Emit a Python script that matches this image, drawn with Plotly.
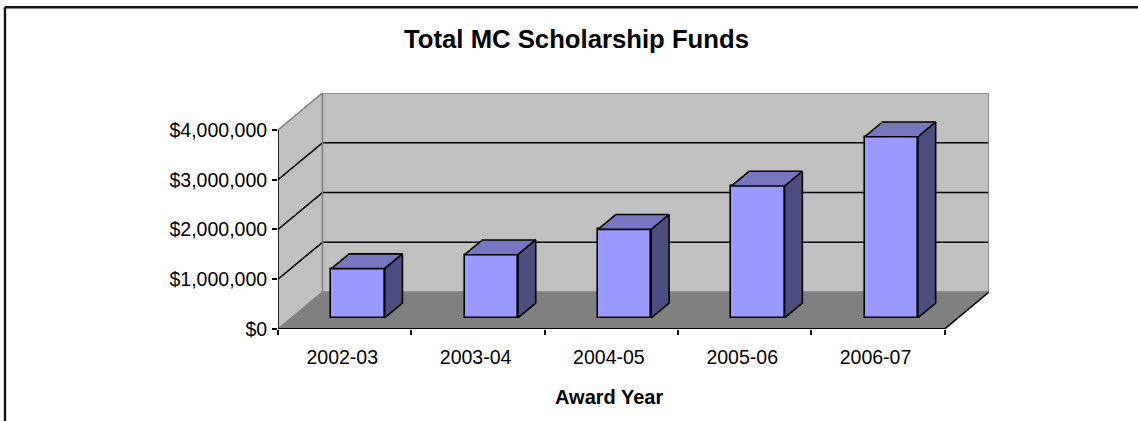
import plotly.graph_objects as go

# Data
categories = ["2002-03", "2003-04", "2004-05", "2005-06", "2006-07"]
funds = [990000, 1270000, 1780000, 2650000, 3640000]
value_ticks = [0, 1000000, 2000000, 3000000, 4000000]
value_labels = ["$0", "$1,000,000", "$2,000,000", "$3,000,000", "$4,000,000"]

# Chart geometry (pixels)
W, H = 1138, 421
LEFT, RIGHT, TOP, BOTTOM = 278.3, 988.7, 93.3, 329.3
DEPTH_PX_X, DEPTH_PX_Y = 44.4, 37.0
BAND_PX = (RIGHT - DEPTH_PX_X - LEFT) / len(categories)
MILLION_PX = 49.8

DX = DEPTH_PX_X / BAND_PX                 # depth shift in category units
DY = DEPTH_PX_Y / MILLION_PX * 1e6        # depth shift in dollars
N = len(categories)
VMAX = value_ticks[-1]
BAR_W = 0.4
D0, D1 = 0.3, 0.7                         # bar front/back depth fractions


def pt(x, v, d=0.0):
    return x + d * DX, v + d * DY


def seg(p0, p1, color, width):
    return dict(type="line", xref="x", yref="y", x0=p0[0], y0=p0[1], x1=p1[0], y1=p1[1],
                line=dict(color=color, width=width), layer="below")


def poly(points, fill):
    d = "M " + " L ".join(f"{a},{b}" for a, b in points) + " Z"
    return dict(type="path", xref="x", yref="y", path=d, fillcolor=fill,
                line=dict(width=0), layer="below")


shapes = [
    poly([pt(0, 0, 1), pt(N, 0, 1), pt(N, VMAX, 1), pt(0, VMAX, 1)], "#c0c0c0"),
    poly([pt(0, 0), pt(0, 0, 1), pt(0, VMAX, 1), pt(0, VMAX)], "#c0c0c0"),
    poly([pt(0, 0), pt(N, 0), pt(N, 0, 1), pt(0, 0, 1)], "#808080"),
]
for v in value_ticks[1:-1]:
    shapes.append(seg(pt(0, v), pt(0, v, 1), "#000000", 1.6))
    shapes.append(seg(pt(0, v, 1), pt(N, v, 1), "#000000", 1.6))
edge = "#808080"
shapes += [
    seg(pt(0, VMAX), pt(0, VMAX, 1), edge, 1.6),
    seg(pt(0, VMAX, 1), pt(N, VMAX, 1), edge, 1.6),
    seg(pt(N, VMAX, 1), pt(N, 0, 1), edge, 1.6),
    seg(pt(0, 0, 1), pt(0, VMAX, 1), edge, 1.6),
    seg(pt(0, 0, 1), pt(N, 0, 1), edge, 1.6),
    seg(pt(0, 0), pt(0, 0, 1), edge, 1.6),
    seg(pt(N, 0), pt(N, 0, 1), "#000000", 1.6),
    seg(pt(0, 0), pt(N, 0), "#000000", 1.8),
    seg(pt(0, 0), pt(0, VMAX), "#000000", 1.6),
]

# Frame (left and top only) in paper coordinates
pw = RIGHT - LEFT
ph = BOTTOM - TOP
fx0 = (5.5 - LEFT) / pw
fx1 = (W + 2 - LEFT) / pw
fy1 = (BOTTOM - 7.5) / ph
fy0 = (BOTTOM - H - 2) / ph
frame = dict(color="#111111", width=2.4)
shapes.append(dict(type="line", xref="paper", yref="paper", x0=fx0, x1=fx0, y0=fy0, y1=fy1, line=frame))
shapes.append(dict(type="line", xref="paper", yref="paper", x0=fx0, x1=fx1, y0=fy1, y1=fy1, line=frame))

fig = go.Figure()
centers = [i + 0.5 for i in range(N)]
front_x = [pt(c, 0, D0)[0] for c in centers]
base = pt(0, 0, D0)[1]

fig.add_trace(go.Bar(
    x=front_x, y=funds, base=base, width=BAR_W,
    marker=dict(color="#9999ff", line=dict(color="#000000", width=1.6)),
    hoverinfo="skip", showlegend=False,
))

line = dict(color="#000000", width=1.6)
for c, v in zip(centers, funds):
    l, r = c - BAR_W / 2, c + BAR_W / 2
    top = [pt(l, v, D0), pt(r, v, D0), pt(r, v, D1), pt(l, v, D1), pt(l, v, D0)]
    side = [pt(r, 0, D0), pt(r, 0, D1), pt(r, v, D1), pt(r, v, D0), pt(r, 0, D0)]
    for face, col in ((top, "#7777c0"), (side, "#4d4d80")):
        fig.add_trace(go.Scatter(
            x=[p[0] for p in face], y=[p[1] for p in face], mode="lines",
            fill="toself", fillcolor=col, line=line, hoverinfo="skip", showlegend=False,
        ))

font = "Liberation Sans, Arial, sans-serif"
fig.update_layout(
    width=W, height=H, paper_bgcolor="white", plot_bgcolor="white",
    margin=dict(l=LEFT, r=W - RIGHT, t=TOP, b=H - BOTTOM, pad=0),
    font=dict(family=font, size=19, color="#000000"),
    shapes=shapes, bargap=0,
    title=dict(text="<b>Total MC Scholarship Funds</b>", font=dict(size=25.7, family=font, color="#000000"),
               x=576.5 / W, xanchor="center", y=1 - 39 / H, yanchor="middle", xref="container", yref="container"),
    xaxis=dict(
        range=[0, N + DX], tickvals=[c - 0.018 for c in centers], ticktext=categories, ticks="", ticklen=0,
        showgrid=False, zeroline=False, showline=False, ticklabelstandoff=14,
        tickfont=dict(size=19.5, family=font, color="#000000"),
        minor=dict(tickvals=list(range(N + 1)), ticks="outside", ticklen=5, tickwidth=1.5,
                   tickcolor="#000000", showgrid=False),
    ),
    yaxis=dict(
        range=[0, VMAX + DY], tickvals=value_ticks, ticktext=value_labels, ticks="outside",
        ticklen=5, tickwidth=1.5, tickcolor="#000000", showgrid=False, zeroline=False, showline=False,
        tickfont=dict(size=19.5, family=font, color="#000000"), ticklabelstandoff=1,
    ),
    annotations=[dict(text="<b>Award Year</b>", x=2.5 - 0.02, xref="x", y=(BOTTOM - 397) / ph, yref="paper",
                      showarrow=False, font=dict(size=20, family=font, color="#000000"),
                      xanchor="center", yanchor="middle")],
)

fig.write_html("out.html", config={"displayModeBar": False},
               post_script="document.body.style.margin='0';document.body.style.overflow='hidden';")
